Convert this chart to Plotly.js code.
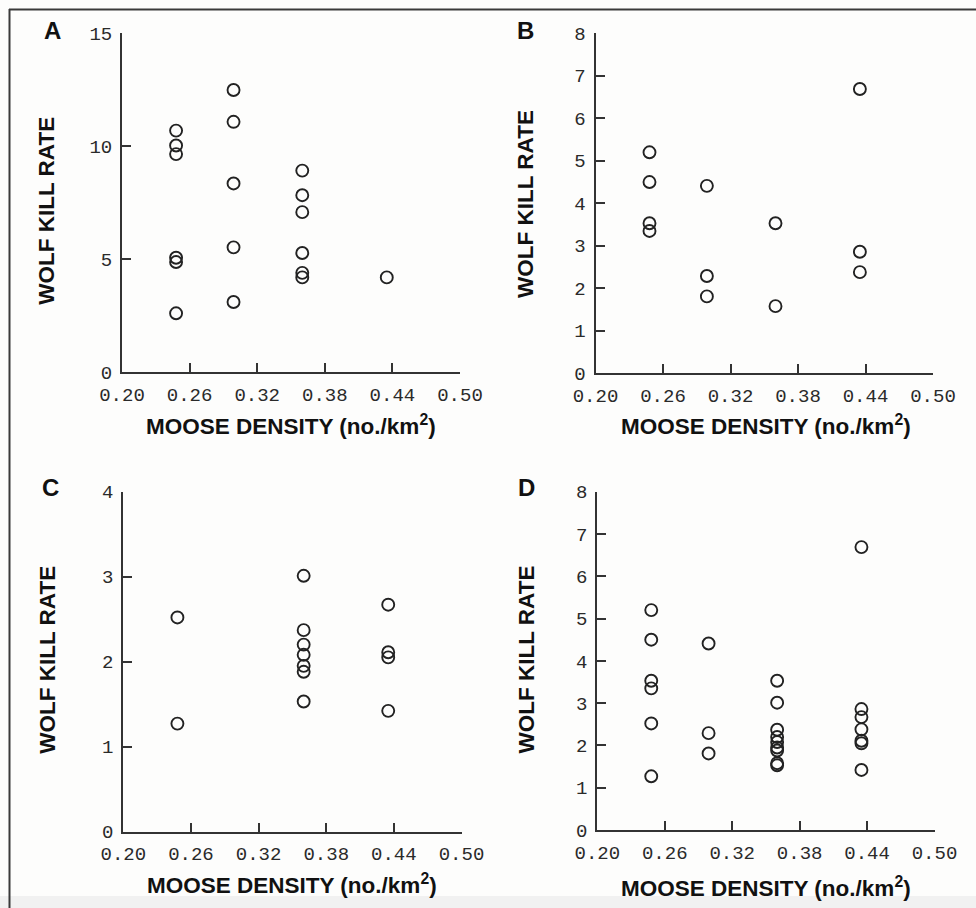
<!DOCTYPE html>
<html>
<head>
<meta charset="utf-8">
<script src="https://cdn.plot.ly/plotly-3.0.1.min.js"></script>
<style>html,body{margin:0;padding:0;background:#fdfdfc;}#chart{width:976px;height:908px;}</style>
</head>
<body>
<div id="chart"></div>
<script>
// ---- Data ----
var panelLetters = ["A", "B", "C", "D"];
var xTickVals = [0.20, 0.26, 0.32, 0.38, 0.44, 0.50];

var aX = [0.248,0.248,0.248,0.248,0.248,0.248, 0.299,0.299,0.299,0.299,0.299, 0.36,0.36,0.36,0.36,0.36,0.36, 0.435];
var aY = [10.69,10.03,9.65,5.06,4.87,2.60, 12.49,11.08,8.35,5.52,3.10, 8.92,7.83,7.08,5.27,4.39,4.19, 4.19];

var bX = [0.248,0.248,0.248,0.248, 0.299,0.299,0.299, 0.36,0.36, 0.435,0.435,0.435];
var bY = [5.20,4.50,3.53,3.35, 4.41,2.29,1.81, 3.53,1.58, 6.69,2.86,2.38];

var cX = [0.248,0.248, 0.36,0.36,0.36,0.36,0.36,0.36,0.36, 0.435,0.435,0.435,0.435];
var cY = [2.52,1.27, 3.01,2.37,2.20,2.08,1.95,1.88,1.53, 2.67,2.11,2.05,1.42];

var dX = [0.248,0.248,0.248,0.248,0.248,0.248, 0.299,0.299,0.299, 0.36,0.36,0.36,0.36,0.36,0.36,0.36,0.36,0.36, 0.435,0.435,0.435,0.435,0.435,0.435,0.435];
var dY = [5.20,4.50,3.53,3.35,2.52,1.27, 4.41,2.29,1.81, 3.53,3.01,2.37,2.20,2.08,1.95,1.88,1.58,1.53, 6.69,2.86,2.67,2.38,2.11,2.05,1.42];

var yTitle = "WOLF KILL RATE";
var xTitle = "MOOSE DENSITY (no./km<sup>2</sup>)";

// ---- Figure ----
var W = 976, H = 908;
function px(x){ return x / W; }
function py(y){ return 1 - y / H; }

var marker = {symbol: "circle-open", size: 12, color: "#222", line: {width: 1.9, color: "#222"}};
function tr(x, y, n){
  return {x: x, y: y, type: "scatter", mode: "markers", marker: marker,
          xaxis: "x" + (n > 1 ? n : ""), yaxis: "y" + (n > 1 ? n : ""),
          hoverinfo: "x+y", showlegend: false};
}
var data = [tr(aX, aY, 1), tr(bX, bY, 2), tr(cX, cY, 3), tr(dX, dY, 4)];

var tickFont = {family: "Liberation Mono, Courier New, monospace", size: 19, color: "#2a2a2a"};
function xax(domain, anchor){
  return {domain: domain, anchor: anchor, range: [0.20, 0.50], tickvals: xTickVals,
          tickformat: ".2f", ticks: "inside", ticklen: 9, tickwidth: 2, tickcolor: "#333",
          showline: true, linewidth: 2, linecolor: "#333", showgrid: false, zeroline: false,
          tickfont: tickFont, ticklabelstandoff: 4, fixedrange: true};
}
function yax(domain, anchor, max, dt){
  return {domain: domain, anchor: anchor, range: [0, max], dtick: dt, tick0: 0,
          ticks: "inside", ticklen: 9, tickwidth: 2, tickcolor: "#333",
          showline: true, linewidth: 2, linecolor: "#333", showgrid: false, zeroline: false,
          tickfont: tickFont, ticklabelstandoff: 4, fixedrange: true};
}

var titleFont = {family: "Liberation Sans, Arial, sans-serif", size: 22.5, color: "#111", weight: "bold"};
var letterFont = {family: "Liberation Sans, Arial, sans-serif", size: 24, color: "#111", weight: "bold"};
function ann(text, x, y, font, angle){
  return {text: text, x: px(x), y: py(y), xref: "paper", yref: "paper",
          xanchor: "center", yanchor: "middle", showarrow: false, font: font, textangle: angle || 0};
}

var layout = {
  width: W, height: H,
  margin: {l: 0, r: 0, t: 0, b: 0},
  paper_bgcolor: "#fdfdfc", plot_bgcolor: "rgba(0,0,0,0)",
  xaxis:  xax([px(122), px(460)], "y"),
  yaxis:  yax([py(372), py(33.3)], "x", 15, 5),
  xaxis2: xax([px(595.5), px(933)], "y2"),
  yaxis2: yax([py(373.3), py(33.3)], "x2", 8, 1),
  xaxis3: xax([px(123.3), px(461.5)], "y3"),
  yaxis3: yax([py(831.5), py(491.7)], "x3", 4, 1),
  xaxis4: xax([px(597.3), px(934.5)], "y4"),
  yaxis4: yax([py(830), py(491.7)], "x4", 8, 1),
  annotations: [
    ann(panelLetters[0], 52, 30, letterFont),
    ann(panelLetters[1], 525.5, 30, letterFont),
    ann(panelLetters[2], 50, 488, letterFont),
    ann(panelLetters[3], 526, 488, letterFont),
    ann(yTitle, 46.7, 211, titleFont, -90),
    ann(yTitle, 526, 204, titleFont, -90),
    ann(yTitle, 46.7, 660, titleFont, -90),
    ann(yTitle, 525.5, 660, titleFont, -90),
    ann(xTitle, 291, 425, titleFont),
    ann(xTitle, 766, 425, titleFont),
    ann(xTitle, 291.5, 884, titleFont),
    ann(xTitle, 765.5, 887, titleFont)
  ],
  shapes: [
    {type: "rect", xref: "paper", yref: "paper", x0: 0, x1: 1, y0: 0, y1: py(896), fillcolor: "#f1f1f1", line: {width: 0}, layer: "below"},
    {type: "line", xref: "paper", yref: "paper", x0: px(9), x1: 1, y0: py(9.5), y1: py(9.5), line: {color: "#3a3a3a", width: 2}},
    {type: "line", xref: "paper", yref: "paper", x0: px(9.5), x1: px(9.5), y0: py(9), y1: 0, line: {color: "#3a3a3a", width: 2}}
  ]
};

Plotly.newPlot("chart", data, layout, {displayModeBar: false, staticPlot: true});
</script>
</body>
</html>
